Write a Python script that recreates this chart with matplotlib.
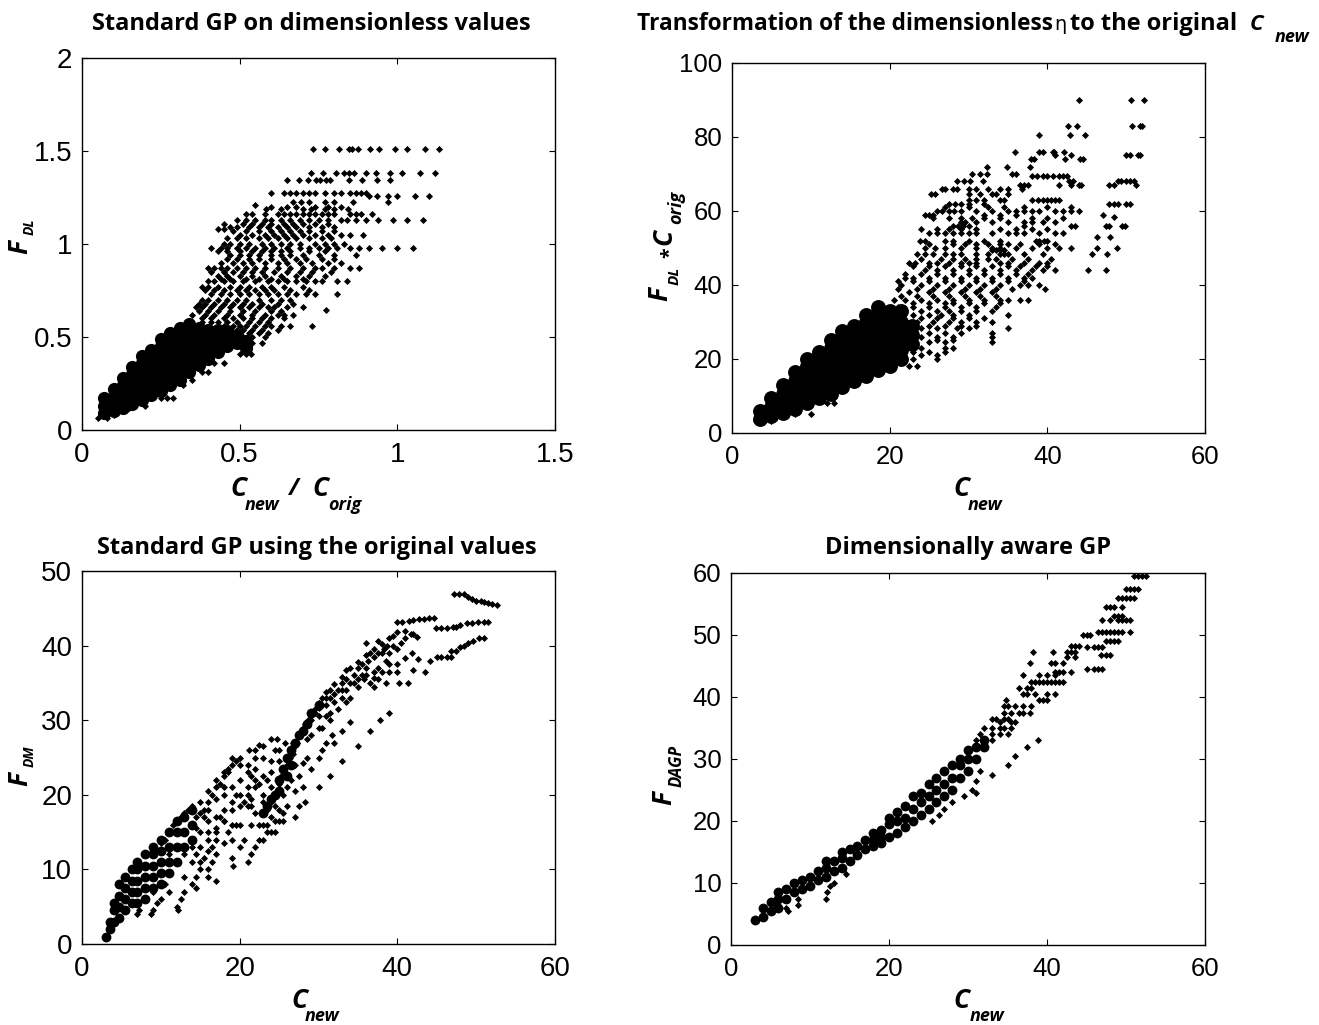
import matplotlib
matplotlib.use("Agg")
import matplotlib.pyplot as plt

W, H = 1319, 1025

# ---- Panel 1: F_DL vs Cnew/Corig (rows: y, xs) ----
p1_rows = [
 (1.51,[.734,.771,.814,.846,.857,.875,.914,.943,.994,1.031,1.089,1.131]),
 (1.38,[.727,.764,.806,.832,.848,.864,.901,.932,.977,1.015,1.073,1.119]),
 (1.345,[.65,.688,.716,.743,.755,.774,.787,.848,.887,.935,.978]),
 (1.275,[.60,.64,.66,.68,.70,.72,.74,.77,.80,.82,.85,.87,.885,.90]),
 (1.26,[.91,.935,.97,1.0,1.055,1.10]),
 (1.225,[.67,.695,.72,.77,.80,.97,.86]),
 (1.20,[.60,.65,.68,.74,.78,.82]),
 (1.19,[.585,.63,.70,.725,.77,.80,.845]),
 (1.21,[.55]),
 (1.16,[.52,.54,.58,.62,.64,.66,.68,.70,.72,.74,.76,.78,.80,.85,.87,.885,.92]),
 (1.13,[.49,.52,.55,.58,.60,.63,.66,.69,.72,.75,.78,.82,.84,.87,.90,.94,.985,1.03,1.08]),
 (1.11,[.45,.51,.54,.57,.60,.64,.67,.70,.74,.78]),
 (1.09,[.47,.49,.53,.56,.59,.62,.65,.68,.72,.76,.80]),
 (1.08,[.43,.45]),
 (1.07,[.48,.52,.56,.60,.63,.66,.69,.72,.76,.80]),
 (1.05,[.50,.54,.58,.61,.64,.67,.70,.74,.78,.82,.85,.89]),
 (1.03,[.46,.49,.52,.56,.59,.62,.65,.68,.72,.76,.79]),
 (1.0,[.45,.47,.50,.53,.57,.60,.63,.66,.69,.74,.77,.80,.83]),
 (.98,[.41,.44,.46,.49,.52,.55,.58,.61,.65,.69,.72,.75,.78,.81,.85,.88,.91,.95,1.0,1.05]),
 (.96,[.43,.46,.50,.54,.57,.60,.63,.66,.72,.77]),
 (.94,[.47,.50,.53,.56,.60,.63,.66,.70,.75,.80,.87]),
 (.92,[.46,.49,.53,.56,.60,.64,.68,.71,.76,.80]),
 (.90,[.44,.48,.51,.54,.58,.62,.65,.69,.73,.78,.82]),
 (.87,[.40,.42,.44,.46,.49,.52,.55,.58,.62,.66,.70,.74,.76,.80,.85,.88]),
 (.85,[.41,.45,.48,.51,.54,.57,.61,.65,.69,.73,.79]),
 (.83,[.43,.46,.50,.54,.58,.63,.68,.72,.77]),
 (.81,[.44,.47,.52,.56,.60,.64,.70]),
 (.80,[.40,.42,.45,.48,.51,.55,.59,.62,.65,.68,.71,.74,.76,.81,.84]),
 (.77,[.38,.40,.43,.47,.50,.53,.57,.60,.64,.70]),
 (.75,[.39,.42,.45,.49,.52,.55,.58,.61,.66,.72]),
 (.73,[.41,.44,.47,.50,.53,.56,.59,.62,.65,.68,.71,.74,.81]),
 (.70,[.38,.40,.43,.46,.49,.52,.56,.60,.63,.66]),
 (.68,[.37,.39,.42,.45,.48,.51,.54,.57,.62,.67]),
 (.66,[.36,.38,.41,.44,.47,.50,.53,.56,.59,.61,.65,.70]),
 (.645,[.774]),
 (.64,[.37,.40,.43,.47,.51,.55,.60,.63]),
 (.62,[.35,.39,.42,.46,.50,.54,.58,.62,.64,.67]),
 (.60,[.38,.41,.45,.48,.51,.54,.57,.60,.64]),
 (.58,[.38,.41,.43,.46,.49,.53,.56,.59]),
 (.56,[.45,.48,.50,.52,.55,.58,.60,.63,.66,.729]),
 (.54,[.42,.46,.49,.51,.54,.57,.62]),
 (.52,[.44,.47,.50,.53,.56,.59]),
 (.50,[.45,.48,.51,.54,.58]),
 (.47,[.42,.45,.48,.51,.54,.57]),
 (.45,[.44,.47,.50,.53]),
 (.41,[.50,.52,.535]),
 (.36,[.42,.45]),
 (.31,[.38,.40]),
 (.27,[.35]),
 (.24,[.32]),
 (.17,[.25,.27,.29]),
 (.13,[.20]),
 (.12,[.15]),
 (.08,[.06,.10]),
 (.065,[.05,.08]),
]
# densely overplotted wedge (columns: x, ys)
p1_core = [
 (.07,[.09,.13,.17]),
 (.10,[.10,.14,.18,.22]),
 (.13,[.12,.16,.20,.24,.28]),
 (.16,[.14,.18,.22,.26,.30,.34]),
 (.19,[.16,.20,.24,.28,.32,.36,.40]),
 (.22,[.19,.23,.27,.31,.35,.39,.43]),
 (.25,[.21,.25,.29,.33,.37,.41,.45,.49]),
 (.28,[.24,.28,.32,.36,.40,.44,.48,.52]),
 (.31,[.27,.31,.35,.39,.43,.47,.51,.55]),
 (.34,[.31,.35,.39,.43,.47,.51,.55,.57]),
 (.37,[.35,.39,.43,.47,.51,.55]),
 (.40,[.38,.42,.46,.50,.54]),
 (.43,[.42,.46,.50,.54]),
 (.46,[.45,.49,.53]),
 (.49,[.47,.51]),
 (.52,[.44,.48]),
]

# ---- Panel 2: F_DL*Corig vs Cnew (rows: y, xs) ----
p2_rows = [
 (90,[44.0,50.6,52.3]),
 (83,[42.6,43.7,50.7,51.7,52.0]),
 (80.5,[38.9,42.9,44.8]),
 (76,[35.9,38.9,39.5,40.7,40.9,42.1]),
 (75,[41,43,50,50.5,51.5,51.8]),
 (74,[37.9,38.3,42.3,44.2,44.5]),
 (72,[32.4,34.9,37.8]),
 (70,[30.4,31.5,32.4,35.5,36]),
 (69.5,[38,38.7,39.5,40,40.7,41.5,42,42.5]),
 (68,[28.6,29.4,30.2,31.9,42.7,43.2,49,49.4,50,50.5,51]),
 (67,[36.5,37,37.5,41.5,43,44,44.3,47.8,48.5,51.3]),
 (66,[26.6,27,28,28.5,30,31,32.5,34,35,36.8]),
 (64.5,[25.2,25.8,30,31.5,33,33.5,35]),
 (63,[30,31,32,34,34.5,38,38.8,39.5,40,40.5,41,41.5]),
 (62,[27.5,28.3,29,30,32,47.8,48.5,49,50,50.5]),
 (61,[27,30,32.5,34.5,37,40,43]),
 (60,[26,26.7,27.5,28.2,29,31,33,35,36,37,38,39,41,42,43,44]),
 (59,[24.5,25,25.5,32,34,36,47]),
 (58.5,[48.5]),
 (58,[25.5,27.5,29,30.5,32,34,38,40,42]),
 (57,[29,29.6,31,33,35,37,38,39.5,41]),
 (56,[28,28.7,29.3,30,37,43,43.5,47.5,47.8,49.5,49.8]),
 (55,[24,26,27.5,29,31,34,36,38,40]),
 (54,[25,26,27,28,29,30,31,33,35,36,37,39,41,42]),
 (53,[46.3,48]),
 (52,[23.8,24.5,27,28,30,32,34,38.5,39,39.6,40]),
 (51,[25,28,29.5,31,32.5,34,35,36.5,39,41]),
 (50,[24.5,25.8,27,29,31,33,34,36,38,40,41.5,43,46.3,48.8]),
 (49.5,[33,33.5,34,34.5]),
 (48.5,[23.5,24.5,25.5,27,28,29,31,32.5,34,34.5,35,37,39.5,45.7,47.6]),
 (47,[24,26.5,28,29.5,31,32.5,33.5,35.5,37.5,40.5]),
 (46,[22.5,23.2,25,26,27.5,29,30,31,34,35,37,39,40]),
 (45,[23,25,27,29,31,33,35,36.5,38.5,40]),
 (44,[24.5,26,28,30,32,34,36,38,39.5,41,45.1,47.5]),
 (43,[22,24,26,28,30,32,34,36,37.5]),
 (42,[22,23,25,27,29,31,33,35,37,38]),
 (41,[21,23,25,27,29,31,33,35,37]),
 (40,[21.5,24,26,28,30,32,34,36.5,37.5,39]),
 (39,[21,23.5,25.5,27.5,29.5,31.5,33.5,35.5,39.7]),
 (38,[22.5,25,27,29,31,33]),
 (37,[21.5,23.5,25.5,27.5,29.5,31.5,33.5]),
 (36,[20.5,22,24,26,28,30,32,34,35,36.5,37.5]),
 (35,[23,25,27,28,30,32,34]),
 (34,[21,23,25,27,29,31,33.5]),
 (33,[24,26,27.5,29,31,33]),
 (32,[23,25,26.5,28,30,35]),
 (31,[24,26,28,30,32]),
 (30,[23.5,25.5,27.5,29,31,33]),
 (29,[25,27,29,31]),
 (28.5,[24,26,28.5,30,35]),
 (27,[25,27,29,33]),
 (26,[24,26,28,33]),
 (25,[26,28]),
 (24.5,[25,27,33]),
 (23,[24,27,28]),
 (22,[23,25,27]),
 (21,[24,26]),
 (20,[22,23,26]),
 (18,[22.5,23.5]),
 (8,[12,13]),
 (5,[6.5,8,10]),
 (3.3,[3,3.5,5]),
]
p2_core = [
 (3.5,[3.8,6]),
 (5,[4.5,7,9.5]),
 (6.5,[5.5,8,10.5,13]),
 (8,[6.5,9,11.5,14,16.5]),
 (9.5,[8,10.5,13,15.5,18,20]),
 (11,[9.5,12,14.5,17,19.5,22]),
 (12.5,[10.5,13,15.5,18,20.5,23,25]),
 (14,[12.5,15,17.5,20,22.5,25,27.5]),
 (15.5,[14,16.5,19,21.5,24,26.5,29]),
 (17,[15.5,18,20.5,23,25.5,28,30,32]),
 (18.5,[17,19.5,22,24.5,27,29.5,32,34]),
 (20,[18,20.5,23,25.5,28,30.5,33]),
 (21.5,[20,22.5,25,27.5,30,33]),
 (22.8,[24,26.5,29]),
]

# ---- Panel 3: F_DM vs Cnew (x, y) ----
p3_points = [
 (47.2,46.9),(47.8,46.9),(48.5,46.9),(49,46.5),(49.5,46.2),(50,46),(50.6,46),(51,45.9),(51.5,45.7),(52,45.6),(52.7,45.5),
 (44.9,42.3),(45.5,42.3),(46.3,42.4),(47,42.5),(47.5,42.5),(48,42.8),(48.8,43),(49.5,43),(50.2,43.1),(51,43.2),(51.5,43.2),
 (40,43.2),(40.6,43.2),(41.5,43.3),(42,43.4),(42.7,43.5),(43.4,43.6),(44,43.7),(44.6,43.7),
 (45,38.5),(45.6,38.5),(46.3,38.5),(46.8,38.5),(46.8,39.3),(47.5,39.3),(48,39.8),(48.5,40),(49,40.4),(49.6,40.6),(50.3,41),(51,41),
 (36,40.3),(37.6,40.6),(38,40.2),(39,41),(39.5,41.3),(40,41.8),(41,41.9),(41.7,41.6),(42,41.5),(42.5,41.2),(41,41),(40.5,40.3),
 (39.5,40),(38.7,40),(38.3,39.5),(37.5,39),(37,38.5),(36.3,38),(35.5,37.5),(35,37),(34.5,36),(33.5,35.5),(33,35),(32.5,34),
 (32,33.5),(31.5,33),(31,33),(30.5,32),(30,31.7),(29.5,31),(29,30.5),(28.7,30),(28.3,29.5),(28,29),(27.7,28),(27.3,27),
 (27,26.5),(26.8,25.5),(26.4,25),(26,24),(25.7,23),(25.3,22.5),(25,21.5),(24.8,20.5),(24.3,20),(24,19),(23.5,18),
 (40.2,35),(41.3,35),(42,36.7),(43.5,36.5),(44.2,38),(42.6,38.2),(41,38.3),(41.9,39),(40,37.5),(39,37.5),(38.5,38),(37.5,37),
 (37,36.5),(36,36),(35.5,36),(35,35.5),(34.5,35),(33.5,34),(36,37),(35,34.5),(36.5,35),(37,35.7),(38.5,35),(35.8,35.5),(33,33),
 (32,32.5),(31.5,31),(31,30.5),(30.5,29),(30,29),(29,28),(28.5,27.5),(31.5,30),(32.5,31.5),(33.5,32.5),(34,33),(37,34.5),
 (39,31),(37.8,30),(36.5,28.5),(35,26.5),(34,29.8),(33,28.5),(32,27),(31.7,28),(31,27),(30.5,26),(30,25),(33,24.5),(31.5,22.5),
 (30,21),(28.5,25),(28,24.2),(29,23.5),(28,21),(27,20.5),(28.3,19),(26,21),(25.5,20),(27.5,18.5),(27,24),(26.5,22),(27.5,22.5),
 (24,27.5),(24.7,27.5),(23,26.5),(22.5,26.7),(25.8,27),(26.8,27),(25,26),(24.5,26),(22,26),(21.2,26),(22,25),(23,25),(24,24.5),
 (21,24),(20,24),(19.5,24.5),(19,24),(18.5,23.5),(18.5,23),(18,22.5),(17.5,21.5),(17,21),(16.5,20),(16,19),(15.5,18),(15,17.5),
 (14.5,17),(14,18.5),(13.5,18),(13,17.5),(12.5,17),(12,16.5),(11.5,16),(11,15),(10.5,14),(10,13.5),
 (21,23),(21.5,22.5),(22,23.5),(23,22.5),(23.5,22),(22.5,21.5),(21,21),(20,20),(19.5,20),(19,19),(20.5,19),(21,18.5),(21.5,18.5),
 (22,17.5),(23,17.5),(24,17),(25,18),(26,18.5),(27,17),(25.5,16.5),(25,16.5),(24.5,16.5),(23.5,16),(23,16),(22.5,16),(21.5,16),
 (20,16),(19.5,16),(19,16),(18,16.5),(18.5,15),(17,15),(23,14),(24,15),(22.5,14),(22,13),(20.5,14),(19,14),(20,13),(18,13.5),
 (17,14),(16.5,13),(21.5,12),(21,11),(19,11.5),(19.2,10.5),(17,12),(16.5,11),(16,10),(16,9),(17,8.5),(15,10),(14.5,9),(14,8),
 (14.5,7.5),(13,9),(13,7),(12.5,6),(12,5),(12.2,4.5),(9,4.5),(8.8,4),(7,4),(7.2,4.5),(9.5,5.5),(10,6),(11,7),(10.5,8),(9,7),(8,6),
 (15,13),(16,15),(17,17),(18,18),(17.5,17),(16,16.5),(15,15),(14,13),(14,11),(13,12),(12,11),(12,13),(12.5,15),(11,12),
 (29,30),(29.5,31.5),(30,32.3),(30.5,33),(31,33.8),(31.5,34),(32,34.8),(33,35.8),(33.5,36.7),(34,37),(35,37.8),(36,38.7),(36.5,39),(37,39.5),
 (38,39),(39,39),(40,39.5),(38,36.5),(39,36.5),(40,36.5),(37.5,35.5),(34,35),(33,34),(31,32),(30,30.5),
 (18,23),(17,22),(16,20.5),(15,19),(19,25),(20,25),(15.5,17),(16,18),(17,19.5),(18,21),(14.5,15.5),
 (16,14),(17,15.5),(18,16.5),(19,18),(20,18.5),(21,20),(22,21),(23,20),(22,22),(20,22),(19,21),(18,20),(24,21),(23,19),(21.5,19.5),
 (24,23),(25,24.5),(24.5,18.5),(25.5,17.5),(24.5,15),(23.5,15),(15.5,11.5),(16,12.5),(14.5,12),(15,11),
]
p3_core = [
 (3,[1]),(3.5,[2,3]),(4,[3,4.5,5.5]),(4.7,[3.5,5,6.5,8]),(5.5,[4.5,6,7.5,9]),(6.3,[5.5,7,8.5,10]),(7,[5.5,7,8.5,10,11]),
 (8,[6,7.5,9,10.5,12]),(9,[7.5,9,10.5,12,13]),(10,[8,9.5,11,12.5,14]),(11,[9.5,11,13,15]),(12,[11,13,15,16.5]),
 (13,[13,15,17]),(14,[14,16,18]),
 (25,[20.5,22]),(25.5,[23.5]),(26,[22.5,25]),(26.5,[24,26]),(27,[27]),(27.5,[28]),(28,[28.5]),(28.5,[29.5]),(29,[31]),(30,[32]),
 (24.5,[20]),(24,[19.5]),(23.5,[18.5]),(23,[17.5]),
]

# ---- Panel 4: F_DAGP vs Cnew (rows: y, xs) ----
p4_rows = [
 (59.5,[51,51.5,52,52.5]),
 (57.5,[50,50.5,51,51.5]),
 (56,[49,49.5,50,50.5,51]),
 (54.5,[47.5,48,48.5,49.5]),
 (53,[48.5,49,49.5]),
 (52.5,[47,48,49,49.5,50,50.5]),
 (50.5,[46.5,47,47.5,48,48.5,49,49.5,50.5]),
 (50,[44.5,45,45.5]),
 (49,[47.5,48,48.5,49]),
 (48.3,[43,43.5,44]),
 (48,[45,46,46.5,47]),
 (47.3,[38.2,40.7,42.5,43,43.5]),
 (46.8,[46.8,47.5,48]),
 (46.5,[42.5,43.5]),
 (45.5,[37.8,40.5,41,42]),
 (44.5,[45,46,46.5,47]),
 (44,[41,41.5,42,43]),
 (43.5,[37,39,40,41]),
 (42.5,[38,38.5,39,39.5,40,40.5,41,41.5,42]),
 (41.5,[36.5,37.5,38]),
 (40.5,[37,37.5,38.5,40,41]),
 (39.5,[34.8,39,39.5,40]),
 (38.5,[35,36,37,38,34.5]),
 (37.5,[34.5,35.5,36.5,37,37.8]),
 (36.5,[33,33.5,34.5,35]),
 (36,[34,35.5,36]),
 (35,[32,33,34,34.5,35.5]),
 (34,[31.5,33,34,35]),
 (33,[31,32,33,38.8]),
 (32,[37.5]),(30.5,[36]),(29,[35]),(27.5,[33]),(28,[31.5]),(26.5,[31]),(25,[30.5]),(24.5,[31]),(24,[29.5]),
 (23,[28]),(20,[25.5]),(21,[26.3]),(22,[27]),(11.5,[14.5]),(10,[13]),(9.5,[12.5]),(8.5,[12.2]),(7.5,[12]),
 (7.5,[8.5]),(6.5,[8.5,6]),(6,[7]),(5.5,[7.2]),
]
p4_core = [
 (3,[4]),(4,[4.5,6]),(5,[5.5,7]),(6,[6,7.5,8.5]),(7,[7.5,9]),(8,[8.5,10]),(9,[9,10.5]),(10,[9.5,11]),(11,[10.5,12]),
 (12,[11,12.5,13.5]),(13,[12,13.5]),(14,[12.5,14,15]),(15,[13.5,15.5]),(16,[14.5,16]),(17,[15.5,17]),(18,[16,17,18]),
 (19,[16.5,17.5,18.5]),(20,[17.5,19.5,20.5]),(21,[18,20,21.5]),(22,[19,20.5,22.5]),(23,[20,22,24]),(24,[21,23,24.5]),
 (25,[22,24,26]),(26,[23,25,27]),(27,[24,26,28]),(28,[25,27,29]),(29,[27,29,30]),(30,[28,30,31.5]),(31,[30,32]),(32,[32,33]),
]

ticks_a = ([0, .5, 1, 1.5], ["0", "0.5", "1", "1.5"])
ticks_c = ([0, 20, 40, 60], ["0", "20", "40", "60"])


def rows_xy(rows):
    xs, ys = [], []
    for y, vals in rows:
        for x in vals:
            xs.append(x); ys.append(y)
    return xs, ys


def cols_xy(cols):
    xs, ys = [], []
    for x, vals in cols:
        for y in vals:
            xs.append(x); ys.append(y)
    return xs, ys


fig = plt.figure(figsize=(W / 100, H / 100), dpi=100)
TICK = "Liberation Sans"
LAB = "Open Sans"


def make_ax(l, r, t, b, xlim, ylim, xt, yt, ts):
    ax = fig.add_axes([l / W, 1 - b / H, (r - l) / W, (b - t) / H])
    ax.set_xlim(*xlim); ax.set_ylim(*ylim)
    ax.set_xticks(xt[0]); ax.set_xticklabels(xt[1])
    ax.set_yticks(yt[0]); ax.set_yticklabels(yt[1])
    ax.tick_params(direction="in", top=True, right=True, length=4, width=0.8,
                   labelsize=ts, pad=7)
    ax.tick_params(axis="x", pad=9)
    for lb in ax.get_xticklabels() + ax.get_yticklabels():
        lb.set_family(TICK)
    for s in ax.spines.values():
        s.set_linewidth(1.0)
    return ax


def txt(x, y, s, size=19, rot=0, style="italic", weight="bold", family=LAB, ha="center"):
    fig.text(x / W, 1 - y / H, s, fontsize=size, rotation=rot, fontstyle=style,
             fontweight=weight, family=family, ha=ha, va="center", color="black")


def points(ax, small, core, core_s):
    ax.scatter(*small, marker="D", s=13, c="black", linewidths=0, zorder=3)
    ax.scatter(*core, marker="o", s=core_s, c="black", linewidths=0, zorder=3)


a1 = make_ax(82, 555, 58, 430, (0, 1.5), (0, 2), ticks_a, ([0, .5, 1, 1.5, 2], ["0", "0.5", "1", "1.5", "2"]), 20)
points(a1, rows_xy(p1_rows), cols_xy(p1_core), 90)

a2 = make_ax(732, 1205, 63, 433, (0, 60), (0, 100), ticks_c, ([0, 20, 40, 60, 80, 100], ["0", "20", "40", "60", "80", "100"]), 18.5)
points(a2, rows_xy(p2_rows), cols_xy(p2_core), 115)

a3 = make_ax(82, 555, 571, 944, (0, 60), (0, 50), ticks_c, ([0, 10, 20, 30, 40, 50], ["0", "10", "20", "30", "40", "50"]), 20)
points(a3, ([p[0] for p in p3_points], [p[1] for p in p3_points]), cols_xy(p3_core), 50)

a4 = make_ax(731, 1205, 573, 945, (0, 60), (0, 60), ticks_c, ([0, 10, 20, 30, 40, 50, 60], ["0", "10", "20", "30", "40", "50", "60"]), 18.5)
points(a4, rows_xy(p4_rows), cols_xy(p4_core), 50)

# titles
tstyle = dict(style="normal", size=17)
txt(311, 24, "Standard GP on dimensionless values", **tstyle)
txt(637, 24, "Transformation of the dimensionless", ha="left", style="normal", size=16.3)
txt(1060, 25, "η", size=14, style="normal", weight="normal", family="DejaVu Sans")
txt(1070, 24, "to the original", ha="left", **tstyle)
txt(1256, 24, "C", size=16)
txt(1292, 37, "new", size=13)
txt(317, 548, "Standard GP using the original values", **tstyle)
txt(968, 548, "Dimensionally aware GP", **tstyle)

# panel 1 labels
txt(238, 489, "C"); txt(262, 505, "new", size=13); txt(293, 489, "/", size=17)
txt(320, 489, "C"); txt(345, 505, "orig", size=13)
txt(20, 247, "F", rot=90); txt(30, 227, "DL", size=10, rot=90)
# panel 2 labels
txt(961, 489, "C"); txt(985, 505, "new", size=13)
txt(660, 294, "F", rot=90); txt(675, 276, "DL", size=11, rot=90)
txt(670, 253, "*", size=14, rot=90, style="normal")
txt(664, 237, "C", rot=90); txt(676, 207, "orig", size=13, rot=90)
# panel 3 labels
txt(299, 1000, "C"); txt(322, 1016, "new", size=13)
txt(20, 779, "F", rot=90); txt(30, 756, "DM", size=10, rot=90)
# panel 4 labels
txt(961, 1000, "C"); txt(987, 1016, "new", size=13)
txt(664, 798, "F", rot=90); txt(677, 766, "DAGP", size=12, rot=90)

fig.savefig("out.png", dpi=100)
